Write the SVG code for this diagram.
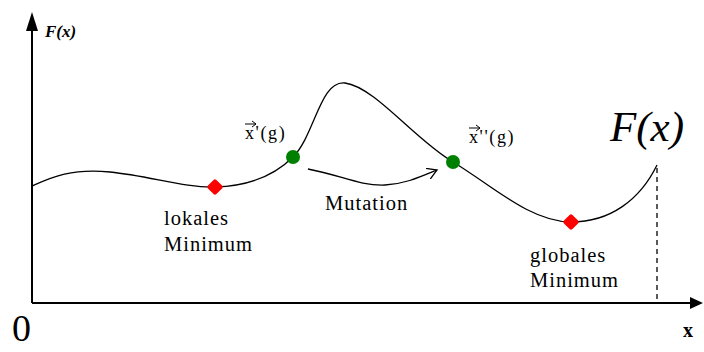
<svg xmlns="http://www.w3.org/2000/svg" width="704" height="352" viewBox="0 0 704 352">
<style>
.ser{font-family:"Liberation Serif","DejaVu Serif",serif;fill:#000}
.lbl{font-size:20.5px;letter-spacing:1px}
.vec{font-size:18px;letter-spacing:1.6px}
.line{fill:none;stroke:#000;stroke-width:1.3}
.axis{fill:none;stroke:#000;stroke-width:2}
.va{fill:none;stroke:#000;stroke-width:1}
</style>
<defs>
<marker id="ah" markerWidth="12" markerHeight="12" refX="10" refY="6" orient="auto" markerUnits="userSpaceOnUse">
<path d="M0,0 L10,6 L0,12" fill="none" stroke="#000" stroke-width="1.3"/>
</marker>
</defs>
<rect width="704" height="352" fill="#fff"/>
<g id="axes">
<line class="axis" x1="32" y1="303" x2="32" y2="28"/>
<path d="M32,12 L26,31 L38,31 Z" fill="#000"/>
<line class="axis" x1="32" y1="303" x2="690" y2="303"/>
<path d="M703,303 L690,297 L690,309 Z" fill="#000"/>
<text class="ser" x="45" y="37" font-size="17" font-weight="bold" font-style="italic">F(x)</text>
<text class="ser" x="683" y="337" font-size="20" font-weight="bold">x</text>
<text class="ser" x="12" y="341" font-size="38">0</text>
</g>
<g id="curve">
<path class="line" d="M32,186 C50,178 70,168 110,172 C150,176 185,188 215,187 C250,186 275,175 293,157 C315,135 320,80 345,83 C375,87 415,140 453,162 C490,184 530,222 571,222 C610,222 640,200 657,165"/>
<line x1="657" y1="168" x2="657" y2="303" stroke="#000" stroke-width="1.3" stroke-dasharray="5,4"/>
<text class="ser" x="610" y="141" font-size="43" font-style="italic">F(x)</text>
</g>
<g id="lokales">
<rect x="209" y="181" width="12" height="12" rx="2" fill="#f00" transform="rotate(45 215 187)"/>
<text class="ser lbl" x="164" y="225">lokales</text>
<text class="ser lbl" x="164" y="251">Minimum</text>
</g>
<g id="x1">
<circle cx="293" cy="157" r="7" fill="#008000"/>
<text class="ser vec" x="245" y="139">x'(g)</text>
<line class="va" x1="245" y1="124" x2="256" y2="124"/>
<path class="va" d="M252,121 L256,124 L252,127"/>
</g>
<g id="x2">
<circle cx="453" cy="162" r="7" fill="#008000"/>
<text class="ser vec" x="469" y="143">x''(g)</text>
<line class="va" x1="469" y1="128" x2="480" y2="128"/>
<path class="va" d="M476,125 L480,128 L476,131"/>
</g>
<g id="globales">
<rect x="565" y="216" width="12" height="12" rx="2" fill="#f00" transform="rotate(45 571 222)"/>
<text class="ser lbl" x="530" y="262">globales</text>
<text class="ser lbl" x="530" y="287">Minimum</text>
</g>
<g id="connectors">
<path class="line" d="M308,169 C340,175 360,186 385,185 C405,184 420,177 437,170" marker-end="url(#ah)"/>
<text class="ser lbl" x="325" y="210">Mutation</text>
</g>
</svg>
